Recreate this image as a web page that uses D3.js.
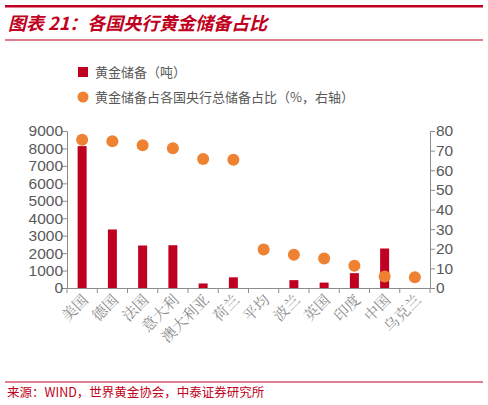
<!DOCTYPE html>
<html><head><meta charset="utf-8">
<script src="https://cdn.jsdelivr.net/npm/d3@7"></script>
<style>body{margin:0;background:#fff;font-family:"Noto Sans CJK SC",sans-serif;}</style>
</head><body><div id="chart"></div>
<script>
// Data
let countries = ['美国','德国','法国','意大利','澳大利亚','荷兰','平均','波兰','英国','印度','中国','乌克兰'];
let tonnes = [8133, 3355, 2436, 2452, 260, 612, null, 450, 310, 850, 2264, null];
let shares = [75.5, 74.8, 72.7, 71.2, 65.7, 65.3, 19.6, 17.0, 15.0, 11.3, 5.8, 5.5];
let leftTicks = [0,1000,2000,3000,4000,5000,6000,7000,8000,9000];
let rightTicks = [0,10,20,30,40,50,60,70,80];

let svgWidth = 488, svgHeight = 405;
let plot = {left: 67, right: 430, top: 131, bottom: 288};
let red = '#c00020', orange = '#ee8232', grey = '#595959', axisGrey = '#8c8c8c';

let svg = d3.select('#chart').append('svg').attr('width', svgWidth).attr('height', svgHeight);

// Header and footer
svg.append('rect').attr('x', 5).attr('y', 5).attr('width', 478).attr('height', 2.5).attr('fill', red);
svg.append('text').attr('x', 8).attr('y', 30).attr('fill', red)
    .style('font-size', '18px').style('font-weight', 'bold').style('font-style', 'italic')
    .text('图表 21：各国央行黄金储备占比');
svg.append('rect').attr('x', 5).attr('y', 39.5).attr('width', 478).attr('height', 1).attr('fill', red);
svg.append('rect').attr('x', 5).attr('y', 381.5).attr('width', 478).attr('height', 1).attr('fill', red);
svg.append('text').attr('x', 7).attr('y', 397).attr('fill', red).style('font-size', '12.5px')
    .text('来源：WIND，世界黄金协会，中泰证券研究所');

// Legend
svg.append('rect').attr('x', 78).attr('y', 67).attr('width', 10).attr('height', 10).attr('fill', red);
svg.append('text').attr('x', 95).attr('y', 77).attr('fill', grey).style('font-size', '13px').text('黄金储备（吨）');
svg.append('circle').attr('cx', 83).attr('cy', 97).attr('r', 5.5).attr('fill', orange);
svg.append('text').attr('x', 95).attr('y', 102).attr('fill', grey).style('font-size', '13px').text('黄金储备占各国央行总储备占比（%，右轴）');

// Scales
let xScale = d3.scaleBand().domain(countries).range([plot.left, plot.right]);
let yLeft = d3.scaleLinear().domain([0, 9000]).range([plot.bottom, plot.top]);
let yRight = d3.scaleLinear().domain([0, 80]).range([plot.bottom, plot.top]);

// Axes
let xAxisTag = svg.append('g').attr('transform', `translate(0, ${plot.bottom})`)
    .call(d3.axisBottom(xScale).tickSize(0).tickFormat(''));
xAxisTag.selectAll('.tick').remove();
xAxisTag.selectAll('.tk').data(d3.range(countries.length + 1)).enter().append('line')
    .attr('x1', i => plot.left + i * xScale.step()).attr('x2', i => plot.left + i * xScale.step())
    .attr('y1', 0).attr('y2', 5).attr('stroke', axisGrey);

let leftAxisTag = svg.append('g').attr('transform', `translate(${plot.left}, 0)`)
    .call(d3.axisLeft(yLeft).tickValues(leftTicks).tickFormat(d3.format('d')).tickSize(5));
let rightAxisTag = svg.append('g').attr('transform', `translate(${plot.right}, 0)`)
    .call(d3.axisRight(yRight).tickValues(rightTicks).tickSize(5));
[xAxisTag, leftAxisTag, rightAxisTag].forEach(a => {
    a.select('.domain').attr('stroke', axisGrey);
    a.selectAll('.tick line').attr('stroke', axisGrey);
    a.selectAll('.tick text').attr('fill', grey).style('font-size', '15.5px').style('font-family', 'Liberation Sans, Arial');
});
leftAxisTag.selectAll('.tick text').attr('x', -4);
rightAxisTag.selectAll('.tick text').attr('x', 6);

// Category labels
svg.selectAll('text.cat').data(countries).enter().append('text')
    .attr('class', 'cat')
    .attr('transform', d => `translate(${xScale(d) + xScale.step() / 2 + 7}, ${plot.bottom + 13}) rotate(-45)`)
    .attr('text-anchor', 'end').attr('fill', '#8c8c8c')
    .style('font-size', '15px').style('font-family', 'Noto Serif CJK SC, Noto Sans CJK SC')
    .text(d => d);

// Bars
let barW = 9;
svg.selectAll('rect.bar').data(countries.map((c, i) => ({c, v: tonnes[i]})).filter(d => d.v != null))
    .enter().append('rect').attr('class', 'bar')
    .attr('x', d => xScale(d.c) + xScale.step() / 2 - barW / 2)
    .attr('y', d => yLeft(d.v)).attr('width', barW)
    .attr('height', d => plot.bottom - yLeft(d.v)).attr('fill', red);

// Dots
svg.selectAll('circle.dot').data(countries.map((c, i) => ({c, v: shares[i]})))
    .enter().append('circle').attr('class', 'dot')
    .attr('cx', d => xScale(d.c) + xScale.step() / 2)
    .attr('cy', d => yRight(d.v)).attr('r', 6).attr('fill', orange);
</script></body></html>
